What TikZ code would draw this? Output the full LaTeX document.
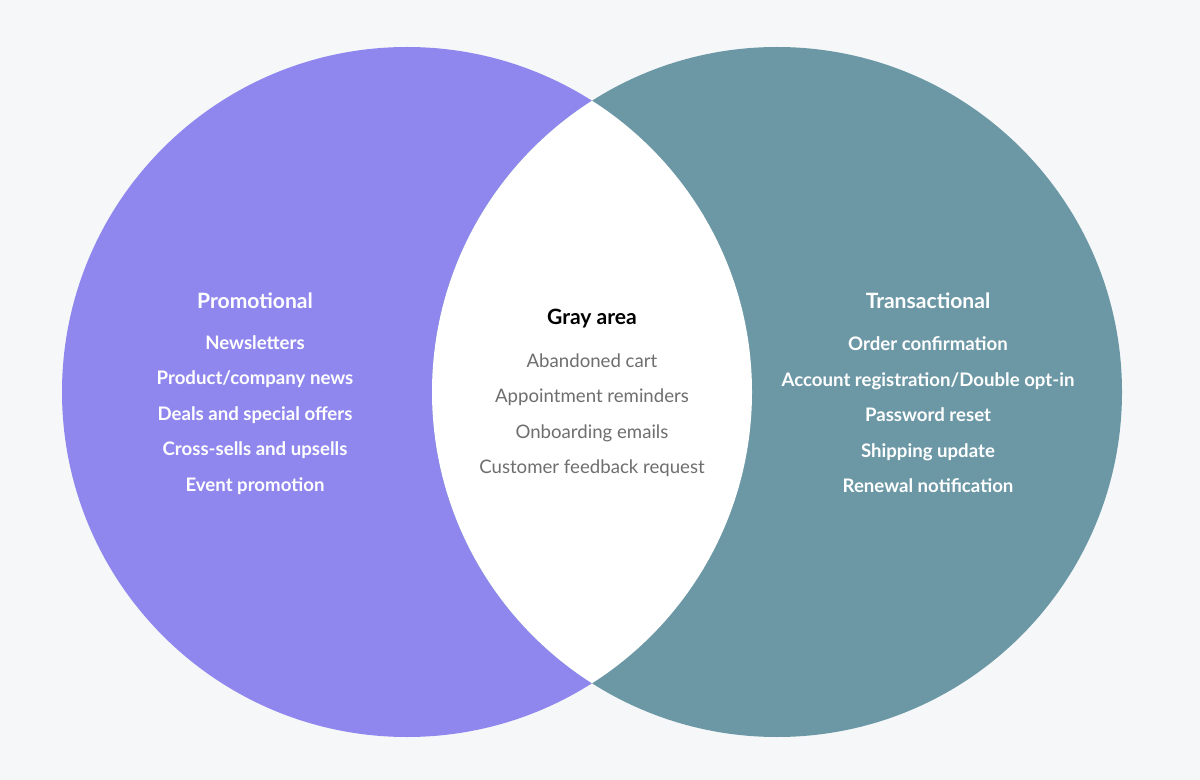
\documentclass[tikz,border=0pt]{standalone}
\usepackage{fontspec}
\setmainfont{Lato}
\usetikzlibrary{positioning}
\definecolor{promo}{HTML}{8F87EE}
\definecolor{trans}{HTML}{6C98A6}
\definecolor{bgc}{HTML}{F5F7F9}
\definecolor{graytxt}{HTML}{6E6E6E}
\tikzset{
  title/.style={font=\bfseries\fontsize{12}{14}\selectfont, inner sep=0pt},
  items/.style={font=\fontsize{10.6}{20.2}\selectfont, align=center, inner sep=0pt},
}
\begin{document}
\begin{tikzpicture}[x=0.02cm,y=-0.02cm]
\fill[bgc] (0,0) rectangle (1200,780);
\useasboundingbox (0,0) rectangle (1200,780);
\fill[promo] (407,392) circle (345);
\fill[trans] (777,392) circle (345);
\begin{scope}
\clip (407,392) circle (345);
\fill[white] (777,392) circle (345);
\end{scope}
% left set
\node[title,text=white](promotitle) at (255,301) {Promotional};
\node[items,text=white,font=\bfseries\fontsize{10.6}{20.2}\selectfont](promolist) at (255,415) {Newsletters\\Product/company news\\Deals and special offers\\Cross-sells and upsells\\Event promotion};
% middle
\node[title,text=black](graytitle) at (592,319) {Gray area};
\node[items,text=graytxt](graylist) at (592,415) {Abandoned cart\\Appointment reminders\\Onboarding emails\\Customer feedback request};
% right set
\node[title,text=white](transtitle) at (928,301) {Transactional};
\node[items,text=white,font=\bfseries\fontsize{10.6}{20.2}\selectfont](translist) at (928,415) {Order confirmation\\Account registration/Double opt-in\\Password reset\\Shipping update\\Renewal notification};
\end{tikzpicture}
\end{document}
